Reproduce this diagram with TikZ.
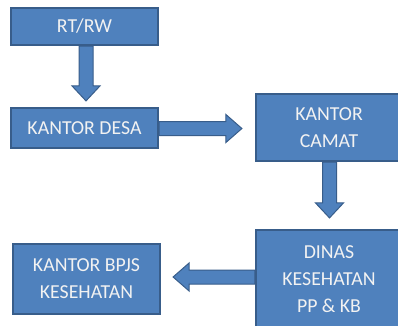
\documentclass[tikz,border=0pt]{standalone}
\usepackage{fontspec}
\setmainfont{Carlito}
\usetikzlibrary{calc}
\definecolor{boxblue}{HTML}{4F81BD}
\definecolor{boxedge}{HTML}{385D8A}
\definecolor{boxtext}{HTML}{F2F2F2}
\tikzset{
  blk/.style={draw=boxedge, line width=2.2pt, fill=boxblue, text=boxtext,
    font=\fontsize{19.8}{27}\selectfont, align=center, inner sep=0pt},
  barrow/.style={draw=boxedge, line width=1pt, fill=boxblue, line join=miter}
}
\newcommand{\blkdown}[2]{%
  \path let \p1=(#1), \p2=(#2) in [barrow]
    (\x1-7,\y1) -- (\x1-7,\y2+15) -- (\x1-14,\y2+15) -- (\x1,\y2)
    -- (\x1+14,\y2+15) -- (\x1+7,\y2+15) -- (\x1+7,\y1) -- cycle;}
\newcommand{\blkright}[2]{%
  \path let \p1=(#1), \p2=(#2) in [barrow]
    (\x1,\y1+7) -- (\x2-16,\y1+7) -- (\x2-16,\y1+14) -- (\x2,\y1)
    -- (\x2-16,\y1-14) -- (\x2-16,\y1-7) -- (\x1,\y1-7) -- cycle;}
\newcommand{\blkleft}[2]{%
  \path let \p1=(#1), \p2=(#2) in [barrow]
    (\x1,\y1+7) -- (\x2+16,\y1+7) -- (\x2+16,\y1+14) -- (\x2,\y1)
    -- (\x2+16,\y1-14) -- (\x2+16,\y1-7) -- (\x1,\y1-7) -- cycle;}
\begin{document}
\begin{tikzpicture}[x=1pt,y=1pt]
\useasboundingbox (0,0) rectangle (398,325);
\clip (0,0) rectangle (398,325);
\fill[white] (0,0) rectangle (398,325);
\node[blk, minimum width=147pt, minimum height=37pt] (rt) at (84.5,298.5) {RT/RW};
\node[blk, minimum width=147pt, minimum height=40pt] (desa) at (84.5,197) {KANTOR DESA};
\node[blk, minimum width=146pt, minimum height=67pt] (camat) at (329,197.5) {KANTOR\\CAMAT};
\node[blk, minimum width=146pt, minimum height=99pt] (dinas) at (329,45.5) {DINAS\\KESEHATAN\\PP \& KB};
\node[blk, minimum width=147pt, minimum height=70pt] (bpjs) at (86.5,46) {KANTOR BPJS\\KESEHATAN};
\coordinate (t1) at ($(desa.north)+(1.5,6)$);
\coordinate (s1) at ($(rt.south)+(1.5,0)$);
\blkdown{s1}{t1}
\coordinate (s2) at ($(desa.east)+(0,-0.5)$);
\coordinate (t2) at ($(camat.west)+(-13,0)$);
\blkright{s2}{t2}
\coordinate (s3) at ($(camat.south)+(0.5,0)$);
\coordinate (t3) at ($(dinas.north)+(0,11)$);
\blkdown{s3}{t3}
\coordinate (s4) at ($(dinas.west)+(0,2.5)$);
\coordinate (t4) at ($(bpjs.east)+(12,0)$);
\blkleft{s4}{t4}
\end{tikzpicture}
\end{document}
